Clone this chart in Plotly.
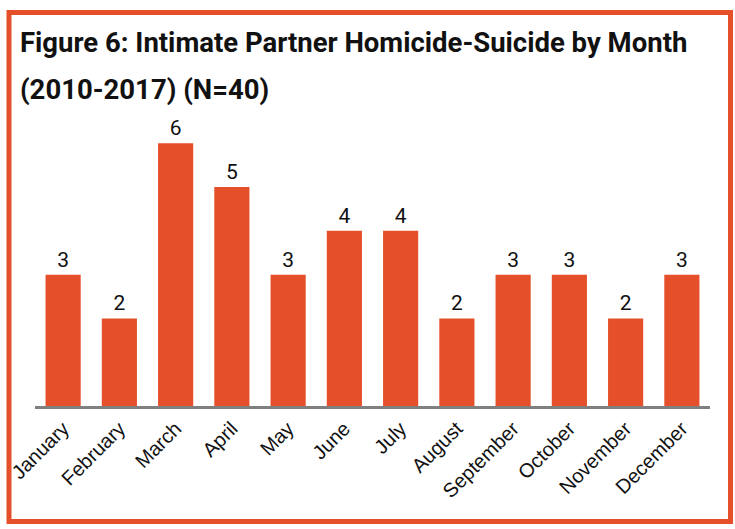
import plotly.graph_objects as go

months = ['January', 'February', 'March', 'April', 'May', 'June', 'July',
          'August', 'September', 'October', 'November', 'December']
cases = [3, 2, 6, 5, 3, 4, 4, 2, 3, 3, 2, 3]

title_line1 = 'Figure 6: Intimate Partner Homicide-Suicide by Month'
title_line2 = '(2010-2017) (N=40)'

ORANGE = '#E5502A'
W, H = 735, 529
L, R, T, B = 35, 25, 117, 123


def px_x(px):
    return (px - L) / (W - L - R)


def px_y(py):
    return (H - B - py) / (H - T - B)


fig = go.Figure()

fig.add_trace(go.Bar(
    x=months, y=cases,
    marker=dict(color=ORANGE, line_width=0),
    text=cases,
    textposition='outside',
    textfont=dict(family='Roboto', size=21, color='#111'),
    cliponaxis=False,
    hoverinfo='x+y',
))

# outer frame
fig.add_shape(
    type='rect', xref='paper', yref='paper',
    x0=px_x(9), x1=px_x(730.5), y0=px_y(521.5), y1=px_y(12.5),
    line=dict(color=ORANGE, width=5),
)

for txt, py in [(title_line1, 42), (title_line2, 89)]:
    fig.add_annotation(
        text=f'<b>{txt}</b>', xref='paper', yref='paper',
        x=px_x(18), y=px_y(py), xanchor='left', yanchor='middle',
        showarrow=False,
        font=dict(family='Roboto', size=27.5, color='#111'),
    )

fig.update_layout(
    width=W, height=H,
    margin=dict(l=L, r=R, t=T, b=B, autoexpand=False),
    paper_bgcolor='white',
    plot_bgcolor='white',
    bargap=0.375,
    showlegend=False,
    xaxis=dict(
        automargin=False,
        showline=True, linecolor='#808080', linewidth=3,
        showgrid=False, ticks='', tickangle=-45,
        tickfont=dict(family='Liberation Sans', size=20, color='#111'),
    ),
    yaxis=dict(
        range=[0, 6.6], visible=False, showgrid=False, zeroline=False,
    ),
)

fig.write_html('out.html', config={'displayModeBar': False},
               post_script="document.body.style.margin='0';")
